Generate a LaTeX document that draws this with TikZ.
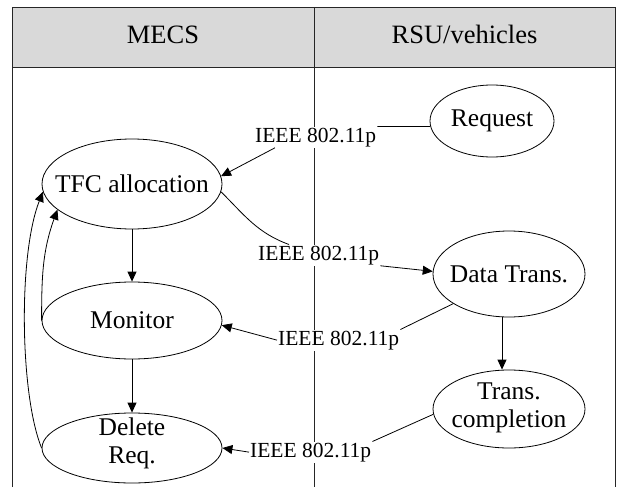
\documentclass[tikz,border=0pt]{standalone}
\usepackage{fontspec}
\setmainfont{Liberation Serif}
\usetikzlibrary{arrows.meta,shapes.geometric}
\begin{document}
\begin{tikzpicture}[x=1pt,y=1pt,
  ell/.style={ellipse,draw,line width=0.8pt,inner sep=0pt},
  txt/.style={inner sep=0pt,align=center,font=\fontsize{25.5}{28}\selectfont},
  lbl/.style={inner sep=1pt,fill=white,font=\fontsize{21.5}{25}\selectfont,anchor=base west},
  hdr/.style={inner sep=0pt,font=\fontsize{26.5}{30}\selectfont,anchor=base},
  arr/.style={line width=0.8pt,-{Triangle[length=10pt,width=9pt]}},
  con/.style={line width=0.8pt},
  frame/.style={line width=0.9pt,draw=black!85}]
\useasboundingbox (0,0) rectangle (618,-487);
% table
\fill[black!15] (12,-7) rectangle (615,-67);
\draw[frame] (12,-487) -- (12,-7) -- (615,-7) -- (615,-487);
\draw[frame] (12,-67) -- (615,-67);
\draw[frame] (314,-7) -- (314,-487);
\node[hdr] (Hm) at (163,-43.3) {MECS};
\node[hdr] (Hr) at (464.5,-43.3) {RSU/vehicles};
% ellipses
\node[ell,minimum width=180pt,minimum height=90pt] (TFC) at (132,-184) {};
\node[ell,minimum width=180pt,minimum height=77pt] (Mon) at (132,-320.5) {};
\node[ell,minimum width=180pt,minimum height=70pt] (Del) at (132,-448) {};
\node[ell,minimum width=124pt,minimum height=72pt] (Req) at (492,-121) {};
\node[ell,minimum width=152pt,minimum height=86pt] (Data) at (509,-274) {};
\node[ell,minimum width=152pt,minimum height=78pt] (TC) at (509,-409) {};
% texts
\node[txt] (TFCt) at (TFC.center) {TFC allocation};
\node[txt] (Mont) at (Mon.center) {Monitor};
\node[txt] (Delt) at ([yshift=5pt]Del.center) {Delete\\Req.};
\node[txt] (Reqt) at (Req.center) {Request};
\node[txt] (Datat) at (Data.center) {Data Trans.};
\node[txt] (TCt) at ([yshift=1pt]TC.center) {Trans.\\completion};
% labels
\node[lbl] (L1) at (254,-142) {IEEE 802.11p};
\node[lbl] (L2) at (257,-260) {IEEE 802.11p};
\node[lbl] (L3) at (277,-345) {IEEE 802.11p};
\node[lbl] (L4) at (249,-457) {IEEE 802.11p};
% connectors
\draw[con] (Req.185) -- (L1.north east);
\draw[arr] ([xshift=21pt]L1.south west) -- (TFC.5);
\draw[con] (TFC.-5) to[out=-45,in=160] ([xshift=32pt]L2.north west);
\draw[arr] (L2.south east) -- (Data.178);
\draw[con] (Data.208) -- (L3.north east);
\draw[arr] (L3.west) -- (Mon.-3);
\draw[con] (TC.184) -- (L4.north east);
\draw[arr] (L4.west) -- (Del.east);
\draw[arr] (TFC.south) -- (Mon.north);
\draw[arr] (Mon.south) -- (Del.north);
\draw[arr] ([xshift=-7pt]Data.south) -- ([xshift=-7pt]TC.north);
\draw[arr] (Mon.west) to[out=90,in=250] (TFC.199);
\draw[arr] (Del.west) .. controls (20,-395) and (18,-255) .. (TFC.185);
\end{tikzpicture}
\end{document}
